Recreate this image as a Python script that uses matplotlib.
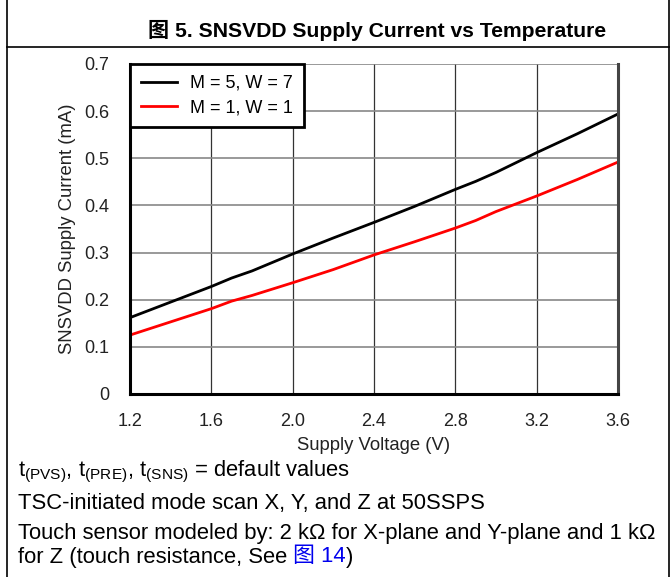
import matplotlib
matplotlib.use("Agg")
import matplotlib.pyplot as plt
from matplotlib.lines import Line2D

plt.rcParams['font.family'] = ['Liberation Sans', 'Noto Sans CJK SC', 'DejaVu Sans']
plt.rcParams['mathtext.fontset'] = 'custom'
plt.rcParams['mathtext.rm'] = 'Liberation Sans'
plt.rcParams['mathtext.it'] = 'Liberation Sans'

# data
volts_black = [1.2, 1.4, 1.6, 1.7, 1.8, 2.0, 2.2, 2.4, 2.6, 2.8, 2.9, 3.0, 3.2, 3.4, 3.6]
curr_black = [0.162, 0.195, 0.228, 0.246, 0.261, 0.297, 0.331, 0.364, 0.398, 0.434, 0.451, 0.470, 0.512, 0.552, 0.594]
volts_red = [1.2, 1.4, 1.6, 1.7, 1.8, 2.0, 2.2, 2.4, 2.6, 2.8, 2.9, 3.0, 3.2, 3.4, 3.6]
curr_red = [0.125, 0.153, 0.181, 0.197, 0.209, 0.236, 0.264, 0.295, 0.323, 0.352, 0.368, 0.387, 0.420, 0.455, 0.492]
labels = ["M = 5, W = 7", "M = 1, W = 1"]
xticks = [1.2, 1.6, 2.0, 2.4, 2.8, 3.2, 3.6]
yticks = [0, 0.1, 0.2, 0.3, 0.4, 0.5, 0.6, 0.7]

W, H = 671, 577
fig = plt.figure(figsize=(W / 100, H / 100), dpi=100)

# frame around the figure block
fig.add_artist(Line2D([7 / W, 7 / W], [0, 1], color='black', lw=1.2))
fig.add_artist(Line2D([669 / W, 669 / W], [0, 1], color='black', lw=1.2))
fig.add_artist(Line2D([7 / W, 669 / W], [1 - 47 / H, 1 - 47 / H], color='black', lw=1.2))

fig.text(377 / W, 1 - 30 / H, "图 5. SNSVDD Supply Current vs Temperature",
         ha='center', va='center', fontsize=15.2, fontweight='bold')

ax = fig.add_axes([130 / W, 1 - 394 / H, (618 - 130) / W, (394 - 64) / H])
ax.plot(volts_black, curr_black, color='black', lw=2, label=labels[0])
ax.plot(volts_red, curr_red, color='#ff0000', lw=2, label=labels[1])
ax.set_xlim(1.2, 3.6)
ax.set_ylim(0, 0.7)
ax.set_xticks(xticks)
ax.set_xticklabels([f"{v:.1f}" for v in xticks])
ax.set_yticks(yticks)
ax.set_yticklabels(["0"] + [f"{v:.1f}" for v in yticks[1:]])
ax.tick_params(length=0, labelsize=13, colors='#222222')
ax.tick_params(axis='x', pad=14)
ax.tick_params(axis='y', pad=15)
for v in xticks[1:-1]:
    ax.axvline(v, color='#333333', lw=0.9, zorder=0)
for v in yticks[1:]:
    ax.axhline(v, color='#888888', lw=1.2, zorder=0)
ax.spines['top'].set_visible(False)
for s in ['left', 'bottom']:
    ax.spines[s].set_linewidth(2.2)
    ax.spines[s].set_color('black')
ax.spines['right'].set_linewidth(2.2)
ax.spines['right'].set_color('#444444')
ax.set_xlabel("Supply Voltage (V)", fontsize=13.3, color='#222222', labelpad=5)
ax.set_ylabel("SNSVDD Supply Current (mA)", fontsize=13.3, color='#222222', labelpad=6)

leg = ax.legend(loc='upper left', bbox_to_anchor=(0, 1), borderaxespad=0, fontsize=13,
                fancybox=False, framealpha=1, edgecolor='black', handlelength=2.0,
                borderpad=0.6, labelspacing=0.4, handletextpad=0.75)
leg.get_frame().set_linewidth(2)

# notes under the chart
fs = 15.8
fig.text(18 / W, 1 - 472 / H, r"t$_{\mathrm{(PVS)}}$, t$_{\mathrm{(PRE)}}$, t$_{\mathrm{(SNS)}}$ = default values",
         fontsize=fs, va='center', ha='left')
fig.text(18 / W, 1 - 503 / H, "TSC-initiated mode scan X, Y, and Z at 50SSPS",
         fontsize=fs, va='center', ha='left')
fig.text(18 / W, 1 - 534 / H, "Touch sensor modeled by: 2 kΩ for X-plane and Y-plane and 1 kΩ",
         fontsize=fs, va='center', ha='left')
t1 = fig.text(18 / W, 1 - 557 / H, "for Z (touch resistance, See ",
              fontsize=fs, va='center', ha='left')
fig.canvas.draw()
r = fig.canvas.get_renderer()
bb = t1.get_window_extent(r)
t2 = fig.text(bb.x1 / W, 1 - 557 / H, "图 14", fontsize=fs, va='center', ha='left', color='#0000ee')
bb2 = t2.get_window_extent(r)
fig.text(bb2.x1 / W, 1 - 557 / H, ")", fontsize=fs, va='center', ha='left')

fig.savefig("out.png", dpi=100)
